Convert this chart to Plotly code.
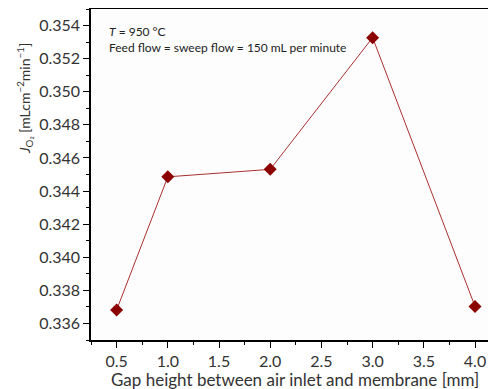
import plotly.graph_objects as go

gap_mm = [0.5, 1.0, 2.0, 3.0, 4.0]
flux = [0.33681, 0.34486, 0.34531, 0.35327, 0.33703]
x_ticks = [0.5, 1.0, 1.5, 2.0, 2.5, 3.0, 3.5, 4.0]
y_ticks = [0.336, 0.338, 0.340, 0.342, 0.344, 0.346, 0.348, 0.350, 0.352, 0.354]

FONT = "Lato"
OFF = 8  # page body margin
W, H = 496 - OFF, 389 - OFF
ML, MR, MT, MB = 91 - OFF, 0, 9 - OFF, 389 - 340

fig = go.Figure()
fig.add_trace(go.Scatter(
    x=gap_mm, y=flux, mode="lines+markers",
    line=dict(color="#a8302e", width=1),
    marker=dict(symbol="diamond", size=10, color="#8b0000"),
    showlegend=False,
))

axis_common = dict(
    showgrid=False, zeroline=False, showline=True, linecolor="black", linewidth=1.5,
    ticks="outside", ticklen=6, tickwidth=1.2, tickcolor="black",
    tickfont=dict(family=FONT, size=16, color="#333"), automargin=False,
)

fig.update_xaxes(
    **axis_common, range=[0.25, 4.205], tickvals=x_ticks,
    ticktext=[f"{v:.1f}" for v in x_ticks], mirror=True,
    minor=dict(ticks="outside", ticklen=3, dtick=0.25, tick0=0.25, tickcolor="black", tickwidth=1.2),
)
fig.update_yaxes(
    **axis_common, range=[0.335, 0.355], tickvals=y_ticks,
    ticktext=[f"{v:.3f}" for v in y_ticks],
    minor=dict(ticks="outside", ticklen=3, dtick=0.001, tick0=0.335, tickcolor="black", tickwidth=1.2),
)

pw = W - ML - MR
ph = H - MT - MB


def px(x):
    return (x - OFF - ML) / pw


def py(y):
    return (H - MB - (y - OFF)) / ph


fig.add_annotation(
    text="Gap height between air inlet and membrane [mm]",
    xref="paper", yref="paper", x=px(295), y=py(379),
    showarrow=False, xanchor="center", yanchor="middle",
    font=dict(family=FONT, size=17, color="#333"),
)
fig.add_annotation(
    text="<i>J</i><sub>O₂</sub> [mLcm<sup>−2</sup>min<sup>−1</sup>]",
    textangle=-90, xref="paper", yref="paper",
    x=px(25), y=py(99),
    showarrow=False, xanchor="center", yanchor="middle",
    font=dict(family=FONT, size=14, color="#333"),
)
fig.add_annotation(
    text="<i>T</i> = 950 °C<br>Feed flow = sweep flow = 150 mL per minute",
    xref="paper", yref="paper", x=px(107), y=py(22),
    xanchor="left", yanchor="top", align="left", showarrow=False,
    font=dict(family=FONT, size=12, color="#222"),
)

fig.update_layout(
    width=W, height=H, margin=dict(l=ML, r=MR, t=MT, b=MB),
    paper_bgcolor="white", plot_bgcolor="#fdfdfd",
)
fig.write_html("out.html")
